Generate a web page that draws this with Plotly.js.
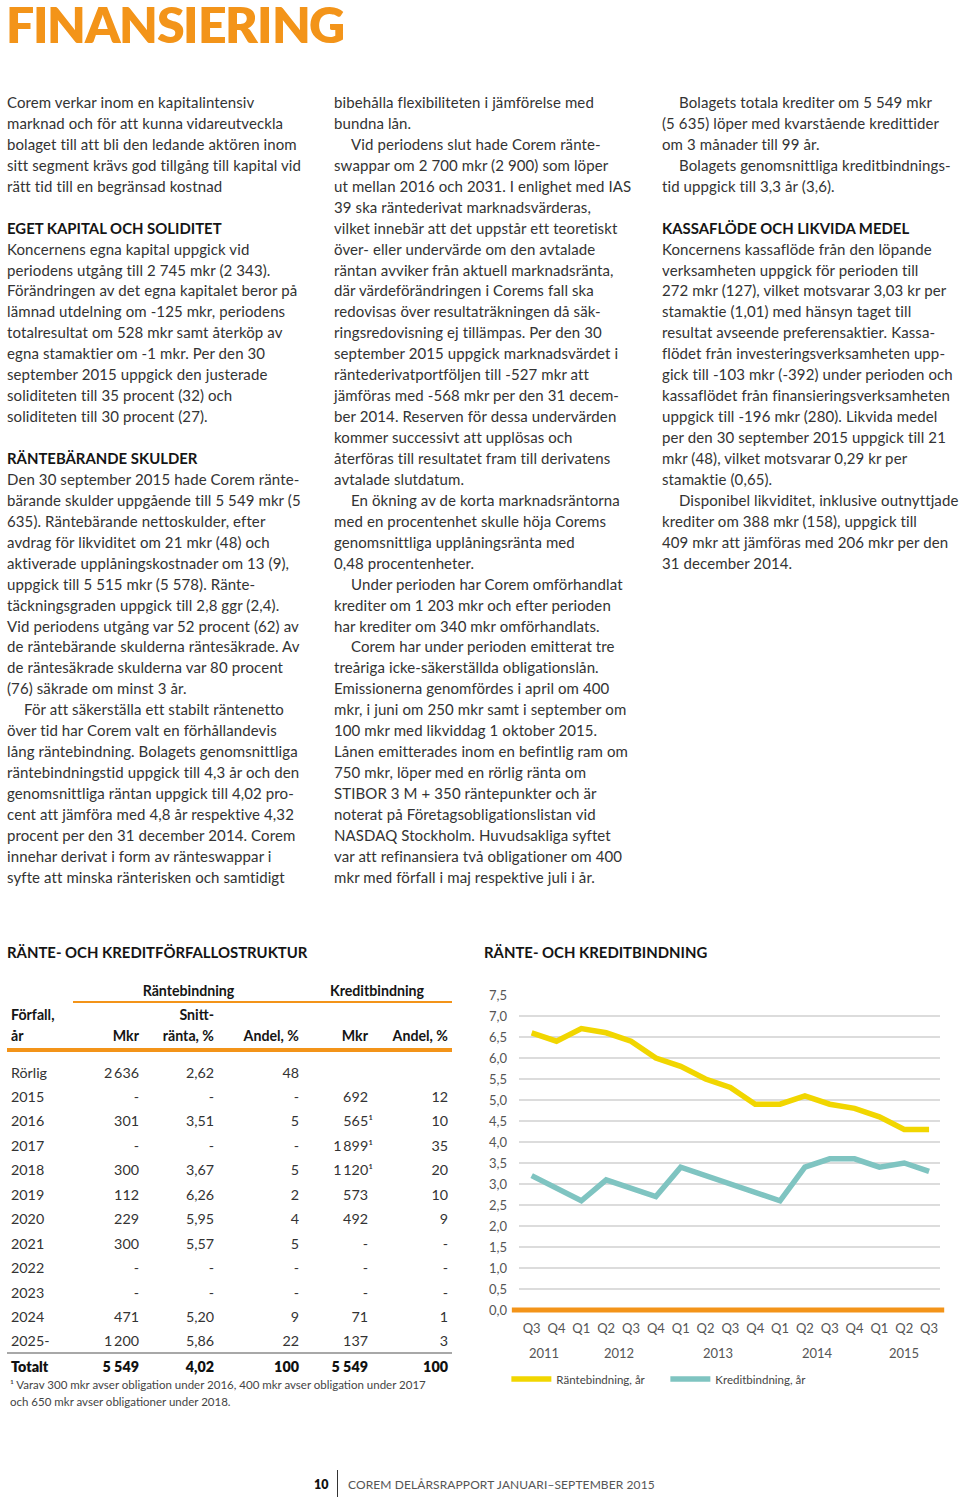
<!DOCTYPE html>
<html>
<head>
<meta charset="utf-8">
<script src="https://cdn.plot.ly/plotly-3.0.1.min.js"></script>
<style>
@font-face{font-family:'LatoTitle';src:local('Lato Black'),local('Lato-Black');font-weight:900;ascent-override:75%;descent-override:5%;line-gap-override:0%;}
html,body{margin:0;padding:0;background:#fff;}
#page{position:relative;width:960px;height:1497px;overflow:hidden;font-family:Lato,"Noto Sans",sans-serif;color:#333;}
.t{position:absolute;white-space:nowrap;}
.body{font-size:15px;line-height:20px;font-weight:400;color:#333;letter-spacing:0.1px;}
.head{font-size:14.9px;line-height:20px;font-weight:700;color:#151515;}
.tb{font-size:14.3px;line-height:20px;color:#333;}
.th{font-size:14.2px;line-height:20px;font-weight:700;color:#151515;}
.tot{font-size:14.3px;line-height:20px;font-weight:800;color:#111;}
.rule{position:absolute;}
#chart{position:absolute;left:480px;top:970px;width:480px;height:450px;}
</style>
</head>
<body>
<div id="page">
  <div id="chart"></div>
</div>
<script>
// ---------- chart data ----------
const quarters = ['Q3','Q4','Q1','Q2','Q3','Q4','Q1','Q2','Q3','Q4','Q1','Q2','Q3','Q4','Q1','Q2','Q3'];
const quarterYears = ['2011','2011','2012','2012','2012','2012','2013','2013','2013','2013','2014','2014','2014','2014','2015','2015','2015'];
const rantebindning = [6.6,6.4,6.7,6.6,6.4,6.0,5.8,5.5,5.3,4.9,4.9,5.1,4.9,4.8,4.6,4.3,4.3];
const kreditbindning = [3.2,2.9,2.6,3.1,2.9,2.7,3.4,3.2,3.0,2.8,2.6,3.4,3.6,3.6,3.4,3.5,3.3];
const seriesNames = ['Räntebindning, år','Kreditbindning, år'];

// ---------- table data ----------
const forfall = ['Rörlig','2015','2016','2017','2018','2019','2020','2021','2022','2023','2024','2025-'];
const ranteMkr = ['2\u2009636','-','301','-','300','112','229','300','-','-','471','1\u2009200'];
const ranteSnitt = ['2,62','-','3,51','-','3,67','6,26','5,95','5,57','-','-','5,20','5,86'];
const ranteAndel = ['48','-','5','-','5','2','4','5','-','-','9','22'];
const kreditMkr = ['','692','565¹','1\u2009899¹','1\u2009120¹','573','492','-','-','-','71','137'];
const kreditAndel = ['','12','10','35','20','10','9','-','-','-','1','3'];
const totals = ['Totalt','5 549','4,02','100','5 549','100'];
const groupHeads = ['Räntebindning','Kreditbindning'];
const colHeads1 = ['Förfall,','','Snitt-','','',''];
const colHeads2 = ['år','Mkr','ränta, %','Andel, %','Mkr','Andel, %'];
const footnote = ['¹ Varav 300 mkr avser obligation under 2016, 400 mkr avser obligation under 2017','och 650 mkr avser obligationer under 2018.'];

// ---------- page text ----------
const pageTitle = 'FINANSIERING';
const tableTitle = 'RÄNTE- OCH KREDITFÖRFALLOSTRUKTUR';
const chartTitle = 'RÄNTE- OCH KREDITBINDNING';
const col1 = [
'Corem verkar inom en kapitalintensiv',
'marknad och för att kunna vidareutveckla',
'bolaget till att bli den ledande aktören inom',
'sitt segment krävs god tillgång till kapital vid',
'rätt tid till en begränsad kostnad',
'',
'#EGET KAPITAL OCH SOLIDITET',
'Koncernens egna kapital uppgick vid',
'periodens utgång till 2 745 mkr (2 343).',
'Förändringen av det egna kapitalet beror på',
'lämnad utdelning om -125 mkr, periodens',
'totalresultat om 528 mkr samt återköp av',
'egna stamaktier om -1 mkr. Per den 30',
'september 2015 uppgick den justerade',
'soliditeten till 35 procent (32) och',
'soliditeten till 30 procent (27).',
'',
'#RÄNTEBÄRANDE SKULDER',
'Den 30 september 2015 hade Corem ränte-',
'bärande skulder uppgående till 5 549 mkr (5',
'635). Räntebärande nettoskulder, efter',
'avdrag för likviditet om 21 mkr (48) och',
'aktiverade upplåningskostnader om 13 (9),',
'uppgick till 5 515 mkr (5 578). Ränte-',
'täckningsgraden uppgick till 2,8 ggr (2,4).',
'Vid periodens utgång var 52 procent (62) av',
'de räntebärande skulderna räntesäkrade. Av',
'de räntesäkrade skulderna var 80 procent',
'(76) säkrade om minst 3 år.',
'\tFör att säkerställa ett stabilt räntenetto',
'över tid har Corem valt en förhållandevis',
'lång räntebindning. Bolagets genomsnittliga',
'räntebindningstid uppgick till 4,3 år och den',
'genomsnittliga räntan uppgick till 4,02 pro-',
'cent att jämföra med 4,8 år respektive 4,32',
'procent per den 31 december 2014. Corem',
'innehar derivat i form av ränteswappar i',
'syfte att minska ränterisken och samtidigt'
];
const col2 = [
'bibehålla flexibiliteten i jämförelse med',
'bundna lån.',
'\tVid periodens slut hade Corem ränte-',
'swappar om 2 700 mkr (2 900) som löper',
'ut mellan 2016 och 2031. I enlighet med IAS',
'39 ska räntederivat marknadsvärderas,',
'vilket innebär att det uppstår ett teoretiskt',
'över- eller undervärde om den avtalade',
'räntan avviker från aktuell marknadsränta,',
'där värdeförändringen i Corems fall ska',
'redovisas över resultaträkningen då säk-',
'ringsredovisning ej tillämpas. Per den 30',
'september 2015 uppgick marknadsvärdet i',
'räntederivatportföljen till -527 mkr att',
'jämföras med -568 mkr per den 31 decem-',
'ber 2014. Reserven för dessa undervärden',
'kommer successivt att upplösas och',
'återföras till resultatet fram till derivatens',
'avtalade slutdatum.',
'\tEn ökning av de korta marknadsräntorna',
'med en procentenhet skulle höja Corems',
'genomsnittliga upplåningsränta med',
'0,48 procentenheter.',
'\tUnder perioden har Corem omförhandlat',
'krediter om 1 203 mkr och efter perioden',
'har krediter om 340 mkr omförhandlats.',
'\tCorem har under perioden emitterat tre',
'treåriga icke-säkerställda obligationslån.',
'Emissionerna genomfördes i april om 400',
'mkr, i juni om 250 mkr samt i september om',
'100 mkr med likviddag 1 oktober 2015.',
'Lånen emitterades inom en befintlig ram om',
'750 mkr, löper med en rörlig ränta om',
'STIBOR 3 M + 350 räntepunkter och är',
'noterat på Företagsobligationslistan vid',
'NASDAQ Stockholm. Huvudsakliga syftet',
'var att refinansiera två obligationer om 400',
'mkr med förfall i maj respektive juli i år.'
];
const col3 = [
'\tBolagets totala krediter om 5 549 mkr',
'(5 635) löper med kvarstående kredittider',
'om 3 månader till 99 år.',
'\tBolagets genomsnittliga kreditbindnings-',
'tid uppgick till 3,3 år (3,6).',
'',
'#KASSAFLÖDE OCH LIKVIDA MEDEL',
'Koncernens kassaflöde från den löpande',
'verksamheten uppgick för perioden till',
'272 mkr (127), vilket motsvarar 3,03 kr per',
'stamaktie (1,01) med hänsyn taget till',
'resultat avseende preferensaktier. Kassa-',
'flödet från investeringsverksamheten upp-',
'gick till -103 mkr (-392) under perioden och',
'kassaflödet från finansieringsverksamheten',
'uppgick till -196 mkr (280). Likvida medel',
'per den 30 september 2015 uppgick till 21',
'mkr (48), vilket motsvarar 0,29 kr per',
'stamaktie (0,65).',
'\tDisponibel likviditet, inklusive outnyttjade',
'krediter om 388 mkr (158), uppgick till',
'409 mkr att jämföras med 206 mkr per den',
'31 december 2014.'
];
const footerPage = '10';
const footerText = 'COREM DELÅRSRAPPORT JANUARI–SEPTEMBER 2015';

// ---------- page building ----------
const page = document.getElementById('page');
function put(html, x, yc, cls, css) {
  const d = document.createElement('div');
  d.className = 't ' + (cls || '');
  d.innerHTML = html;
  d.style.left = x + 'px';
  d.style.top = (yc - 11) + 'px';
  if (css) Object.assign(d.style, css);
  page.appendChild(d);
  return d;
}
function putRight(html, xr, yc, cls, css) {
  const d = put(html, 0, yc, cls, css);
  d.style.left = '';
  d.style.right = (960 - xr) + 'px';
  d.style.textAlign = 'right';
  return d;
}
function putCenter(html, xc, yc, cls, css) {
  const d = put(html, xc - 100, yc, cls, css);
  d.style.width = '200px';
  d.style.textAlign = 'center';
  return d;
}
function rule(x0, x1, yc, h, color) {
  const d = document.createElement('div');
  d.className = 'rule';
  d.style.left = x0 + 'px';
  d.style.width = (x1 - x0) + 'px';
  d.style.top = (yc - h / 2) + 'px';
  d.style.height = h + 'px';
  d.style.background = color;
  page.appendChild(d);
}
function sup(s) { return s.replace('¹', '<span style="margin-right:-5px">¹</span>'); }

// title
put(pageTitle, 6, 25, '', {fontFamily:"LatoTitle, Lato, sans-serif", fontSize:'50px', lineHeight:'36px', top:'7.5px', fontWeight:'900', color:'#f39419', letterSpacing:'-1.45px'});

// text columns
function column(lines, x) {
  const y0 = 103, lh = 20.94;
  lines.forEach((ln, i) => {
    if (!ln) return;
    const yc = y0 + i * lh;
    if (ln[0] === '#') put(ln.slice(1), x, yc, 'head');
    else if (ln[0] === '\t') put(ln.slice(1), x + 17, yc, 'body');
    else put(ln, x, yc, 'body');
  });
}
column(col1, 7);
column(col2, 334);
column(col3, 662);

// section titles
put(tableTitle, 7, 953, 'head');
put(chartTitle, 484, 953, 'head');

// table
const colRight = [null, 139, 214, 299, 368, 448];
const firstX = 11;
putCenter(groupHeads[0], 188.5, 992, 'th');
putCenter(groupHeads[1], 377, 992, 'th');
rule(73, 452, 1002, 2, '#f39419');
colHeads1.forEach((h, c) => { if (!h) return; if (c === 0) put(h, firstX, 1016, 'th'); else putRight(h, colRight[c], 1016, 'th'); });
colHeads2.forEach((h, c) => { if (c === 0) put(h, firstX, 1036.5, 'th'); else putRight(h, colRight[c], 1036.5, 'th'); });
rule(7, 452, 1050, 4.5, '#f39419');
const cols = [forfall, ranteMkr, ranteSnitt, ranteAndel, kreditMkr, kreditAndel];
forfall.forEach((_, r) => {
  const yc = 1073.5 + r * 24.45;
  cols.forEach((arr, c) => {
    const v = arr[r];
    if (v === '') return;
    if (c === 0) put(v, firstX, yc, 'tb');
    else putRight(sup(v), colRight[c], yc, 'tb');
  });
});
rule(7, 452, 1353, 2, '#a8a8a8');
totals.forEach((v, c) => { if (c === 0) put(v, firstX, 1367.5, 'tot'); else putRight(v, colRight[c], 1367.5, 'tot'); });
put(footnote[0], 10, 1388.5, '', {fontSize:'11.5px', color:'#444'});
put(footnote[1], 10, 1405.5, '', {fontSize:'11.5px', color:'#444'});

// footer
put(footerPage, 314, 1487.5, '', {fontSize:'12.5px', fontWeight:'800', color:'#111'});
rule(336.5, 337.8, 1484, 28, '#333');
put(footerText, 348, 1487.5, '', {fontSize:'12px', color:'#555', letterSpacing:'0.1px'});

// ---------- chart ----------
const idx = quarters.map((_, i) => i);
const yearList = [...new Set(quarterYears)];
const PLOT_H = 315;
const yearAnn = yearList.map(y => {
  const ii = idx.filter(i => quarterYears[i] === y);
  const cx = ii.reduce((a, b) => a + b, 0) / ii.length;
  return {x: cx, xref:'x', y: -43 / PLOT_H, yref:'paper', text: y, showarrow:false, xanchor:'center', yanchor:'middle', font:{size:13, color:'#555'}};
});

const traces = [
  {x: idx, y: rantebindning, type:'scatter', mode:'lines', name: seriesNames[0], line:{color:'#f1d600', width:5.5}},
  {x: idx, y: kreditbindning, type:'scatter', mode:'lines', name: seriesNames[1], line:{color:'#7fc4c1', width:5.5}}
];
const layout = {
  width: 480, height: 450,
  margin: {l:39, r:20, t:25, b:110, pad:0, autoexpand:false},
  paper_bgcolor:'rgba(0,0,0,0)', plot_bgcolor:'rgba(0,0,0,0)',
  separators: ', ',
  font: {family:'Lato, sans-serif', size:13, color:'#555'},
  showlegend: true,
  legend: {orientation:'h', x:-0.03, xanchor:'left', y:-69 / PLOT_H, yanchor:'middle',
           font:{size:11.5, color:'#444'}, itemwidth:40, traceorder:'normal',
           entrywidth:104, entrywidthmode:'pixels', bgcolor:'rgba(0,0,0,0)'},
  xaxis: {range:[-0.51, 16.44], tickmode:'array', tickvals: idx, ticktext: quarters, automargin:false,
          showgrid:false, zeroline:false, showline:false, ticks:'', ticklabelstandoff:9, fixedrange:true},
  yaxis: {range:[0, 7.5], tick0:0, dtick:0.5, tickformat:'.1f', showgrid:true, gridcolor:'#dcdcdc', gridwidth:1.3, automargin:false,
          zeroline:false, showline:false, ticks:'', ticklabelstandoff:11, fixedrange:true},
  shapes: [{type:'line', xref:'paper', yref:'paper', x0:-0.017, x1:1.01, y0:0, y1:0, line:{color:'#f39419', width:5}}],
  annotations: yearAnn
};
Plotly.newPlot('chart', traces, layout, {staticPlot:true, displayModeBar:false});
</script>
</body>
</html>
